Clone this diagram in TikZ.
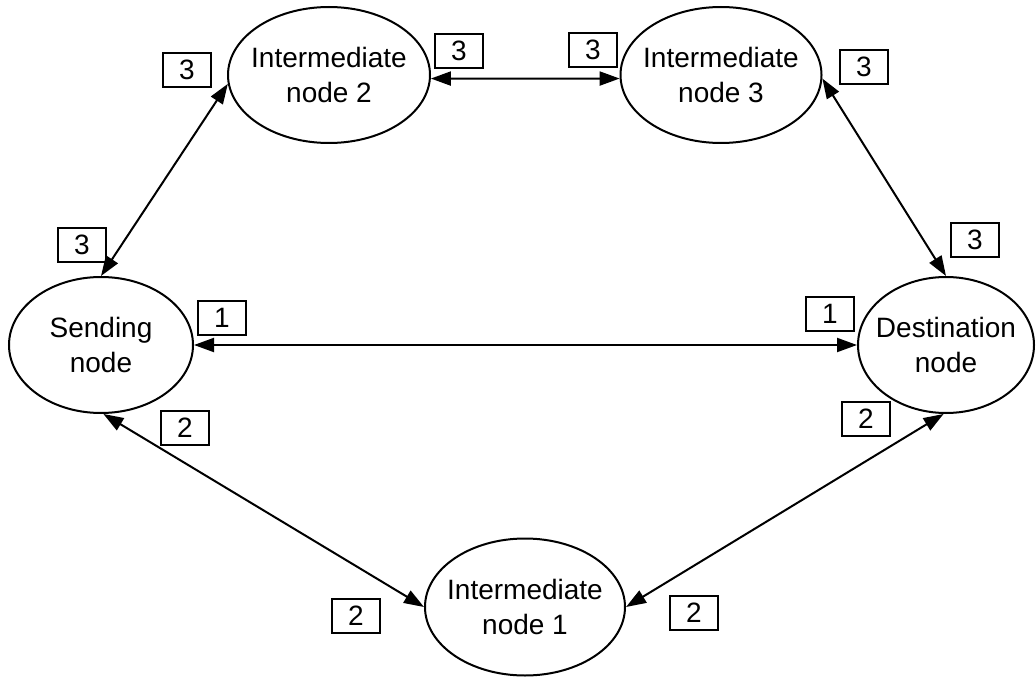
\documentclass[tikz,border=0pt]{standalone}
\usepackage{fontspec}
\setmainfont{Liberation Sans}
\usetikzlibrary{shapes.geometric,arrows.meta}
\tikzset{
  ell/.style={draw, ellipse, line width=2pt, align=center, inner xsep=-12pt, inner ysep=0pt,
    font=\fontsize{28}{35}\selectfont},
  lbl/.style={draw, rectangle, line width=1.6pt, minimum width=48pt, minimum height=34pt,
    inner sep=0pt, font=\fontsize{28}{33}\selectfont},
  link/.style={line width=2pt, {Triangle[length=20pt,width=14pt]}-{Triangle[length=20pt,width=14pt]}}
}
\begin{document}
\begin{tikzpicture}[x=1pt,y=-1pt]
\useasboundingbox (0,0) rectangle (1036,679);
\node[ell, minimum width=202pt, minimum height=136pt] (i2) at (329,75) {Intermediate\\node 2};
\node[ell, minimum width=201pt, minimum height=136pt] (i3) at (721,75) {Intermediate\\node 3};
\node[ell, minimum width=184pt, minimum height=136pt] (s) at (101,345) {Sending\\node};
\node[ell, minimum width=176pt, minimum height=136pt] (d) at (946,345) {Destination\\node};
\node[ell, minimum width=200pt, minimum height=137pt] (i1) at (525,607) {Intermediate\\node 1};

\draw[link] (s.north) -- (i2.185);
\draw[link] (i2.-2) -- (i3.182);
\draw[link] (i3.-2) -- (d.north);
\draw[link] (s.east) -- (d.west);
\draw[link] (s.-88) -- (i1.west);
\draw[link] (d.-92) -- (i1.east);

\node[lbl] (l1) at (187,70) {3};
\node[lbl] (l2) at (459,51) {3};
\node[lbl] (l3) at (593,50) {3};
\node[lbl] (l4) at (864,67) {3};
\node[lbl] (l5) at (82,245) {3};
\node[lbl] (l6) at (975,240) {3};
\node[lbl] (l7) at (222,318) {1};
\node[lbl] (l8) at (830,314) {1};
\node[lbl] (l9) at (185,428) {2};
\node[lbl] (l10) at (866,419) {2};
\node[lbl] (l11) at (356,616) {2};
\node[lbl] (l12) at (694,613) {2};
\end{tikzpicture}
\end{document}
